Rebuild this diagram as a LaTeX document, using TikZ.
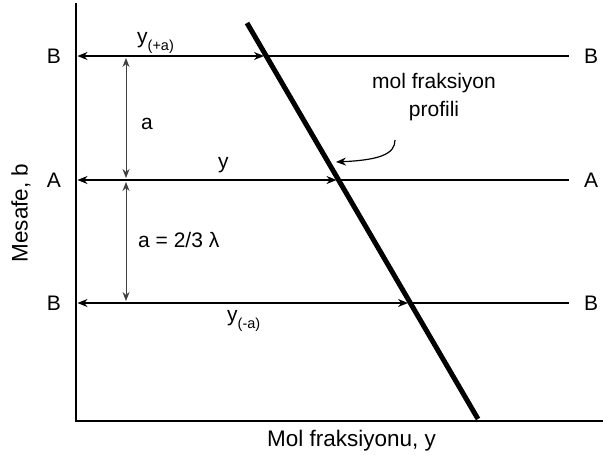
\documentclass[tikz,border=0pt]{standalone}
\usepackage{fontspec}
\setmainfont{Liberation Sans}
\usetikzlibrary{arrows.meta}
\begin{document}
\begin{tikzpicture}[x=1pt,y=-1pt,
  lbl/.style={font=\fontsize{21}{28}\selectfont, inner sep=0pt},
  ttl/.style={font=\fontsize{22.5}{28}\selectfont, inner sep=0pt},
  axisline/.style={line width=2.6pt},
  level/.style={line width=1.5pt},
  lvlarrow/.style={level, {Stealth[length=10pt,width=8pt]}-{Stealth[length=10pt,width=8pt]}},
  dimarrow/.style={line width=0.9pt, draw=black!75, {Stealth[length=9pt,width=7pt]}-{Stealth[length=9pt,width=7pt]}},
  prof/.style={line width=5pt}
]
\useasboundingbox (0,0) rectangle (603,459);
% axes
\coordinate (O) at (76,421);
\coordinate (Ytop) at (76,3);
\coordinate (Xend) at (603,421);
\draw[axisline] (Ytop) -- (O) -- (Xend);
% profile line
\coordinate (P1) at (247,23);
\coordinate (P2) at (478,419);
\draw[prof] (P1) -- (P2);
% level lines
\coordinate (LB1) at (77.5,56);  \coordinate (XB1) at (264,56);  \coordinate (RB1) at (569,56);
\coordinate (LA)  at (77.5,180); \coordinate (XA)  at (336.5,180); \coordinate (RA)  at (569,180);
\coordinate (LB2) at (77.5,303); \coordinate (XB2) at (408,303); \coordinate (RB2) at (569,303);
\draw[lvlarrow] (LB1) -- (XB1); \draw[level] (XB1) -- (RB1);
\draw[lvlarrow] (LA) -- (XA);   \draw[level] (XA) -- (RA);
\draw[lvlarrow] (LB2) -- (XB2); \draw[level] (XB2) -- (RB2);
% side labels
\node[lbl, anchor=base] (lB1) at (54,63) {B};
\node[lbl, anchor=base] (lA)  at (54,187) {A};
\node[lbl, anchor=base] (lB2) at (54,310) {B};
\node[lbl, anchor=base] (rB1) at (591,63) {B};
\node[lbl, anchor=base] (rA)  at (591,187) {A};
\node[lbl, anchor=base] (rB2) at (591,310) {B};
% dimension arrows
\coordinate (D1a) at (126,58);  \coordinate (D1b) at (126,178);
\coordinate (D2a) at (126,182); \coordinate (D2b) at (126,301);
\draw[dimarrow] (D1a) -- (D1b);
\draw[dimarrow] (D2a) -- (D2b);
% labels
\node[lbl, anchor=base west] (ypa) at (137,43) {y\raisebox{-7pt}{\fontsize{14.5}{14.5}\selectfont(+a)}};
\node[lbl, anchor=base west] (la) at (141,129) {a};
\node[lbl, anchor=base west] (ly) at (218,168) {y};
\node[lbl, anchor=base west] (lam) at (138,247) {a = 2/3 λ};
\node[lbl, anchor=base west] (yma) at (227,321) {y\raisebox{-7pt}{\fontsize{14.5}{14.5}\selectfont(-a)}};
% profile label and pointer
\node[lbl, anchor=base, align=center] (pl) at (434,116) {mol fraksiyon\\profili};
\coordinate (C1) at (395,140);
\coordinate (C2) at (336,162);
\draw[line width=1.2pt, -{Stealth[length=10pt,width=8pt]}] (C1) .. controls (395,154) and (380,160) .. (C2);
% axis titles
\node[ttl, anchor=base] (xt) at (351.5,446) {Mol fraksiyonu, y};
\node[ttl, rotate=90, anchor=center] (yt) at (21,213) {Mesafe, b};
\end{tikzpicture}
\end{document}
